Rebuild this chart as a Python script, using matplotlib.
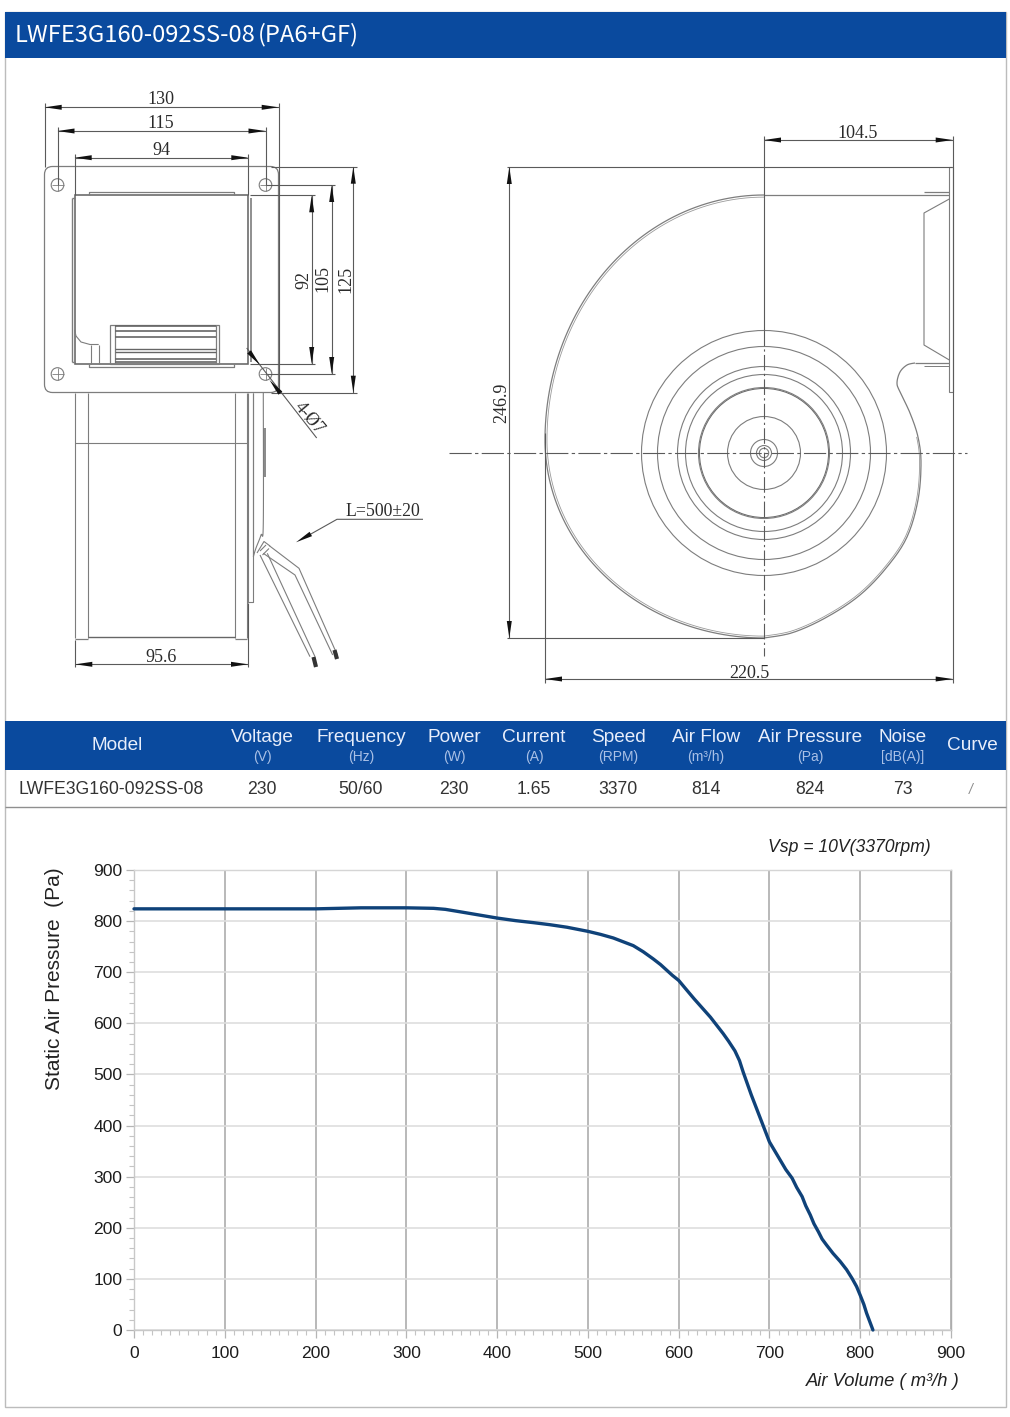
import numpy as np
import matplotlib
matplotlib.use('Agg')
import matplotlib.pyplot as plt
from matplotlib.patches import Circle, FancyBboxPatch, Polygon, Rectangle

plt.rcParams['font.family'] = ['Liberation Sans', 'DejaVu Sans']

# curve
air_volume = [0, 100, 200, 250, 300, 330, 343, 360, 380, 400, 420, 440, 458, 477, 500, 514, 528,
              550, 561, 572, 580, 593, 600, 608, 617, 626, 635, 642, 649, 655, 662, 667, 671,
              676, 680, 685, 690, 695, 700, 706, 712, 718, 725, 730, 736, 740, 745, 749, 754,
              758, 763, 770, 778, 785, 791, 796, 800, 804, 807, 814]
pressure = [824, 824, 824, 826, 826, 825, 823, 818, 812, 806, 801, 797, 793, 788, 780, 774, 767,
            752, 740, 726, 715, 694, 684, 667, 648, 630, 612, 596, 580, 565, 546, 527, 505,
            480, 460, 437, 414, 391, 368, 350, 332, 314, 297, 279, 261, 243, 225, 208, 192,
            178, 166, 150, 134, 118, 101, 85, 68, 50, 33, 0]
x_ticks = [0, 100, 200, 300, 400, 500, 600, 700, 800, 900]
y_ticks = [0, 100, 200, 300, 400, 500, 600, 700, 800, 900]

title_model = 'LWFE3G160-092SS-08'
title_material = '(PA6+GF)'
col_names = ['Model', 'Voltage', 'Frequency', 'Power', 'Current', 'Speed', 'Air Flow',
             'Air Pressure', 'Noise', 'Curve']
col_units = ['', '(V)', '(Hz)', '(W)', '(A)', '(RPM)', '(m³/h)', '(Pa)', '[dB(A)]', '']
col_values = ['LWFE3G160-092SS-08', '230', '50/60', '230', '1.65', '3370', '814', '824', '73', '/']
col_x = [117, 262, 361, 454, 534, 618, 706, 810, 903, 972]
value_x = [111, 262, 361, 454, 534, 618, 706, 810, 903, 971]

# drawing outlines, in pixels of the page
volute_right = [(764, 638), (793, 632.5), (827, 617), (860, 595), (887, 567), (907, 537), (918, 500),
                (921, 463), (918, 437), (910, 413), (900, 392), (897, 383), (900, 372), (907, 365),
                (915, 363)]
rings = [122.5, 106.5, 86.5, 78.5, 65.5, 36.5, 13.5, 7.5, 4.7]

BLUE = '#0a4a9e'
LINE = '#7d7d7d'
DIM = '#5a5a5a'


def smooth(points, steps=12):
    pts = np.array(points, dtype=float)
    pts = np.vstack([pts[0], pts, pts[-1]])
    out = []
    for i in range(1, len(pts) - 2):
        p0, p1, p2, p3 = pts[i - 1], pts[i], pts[i + 1], pts[i + 2]
        for t in np.linspace(0, 1, steps, endpoint=False):
            out.append(0.5 * (2 * p1 + (p2 - p0) * t + (2 * p0 - 5 * p1 + 4 * p2 - p3) * t ** 2
                              + (3 * p1 - p0 - 3 * p2 + p3) * t ** 3))
    out.append(pts[-2])
    return np.array(out)


fig = plt.figure(figsize=(10.10, 14.17), dpi=100, facecolor='white')
page = fig.add_axes([0, 0, 1, 1])
page.set_xlim(0, 1010)
page.set_ylim(1417, 0)
page.axis('off')


def line(xs, ys, color=LINE, lw=0.8, **kw):
    page.plot(xs, ys, color=color, lw=lw, solid_capstyle='butt', **kw)


def arrow(tip_x, tip_y, dx, dy, length=17, width=5):
    # dx, dy is the unit direction from the tail to the tip
    nx, ny = -dy, dx
    bx, by = tip_x - dx * length, tip_y - dy * length
    page.add_patch(Polygon([(tip_x, tip_y), (bx + nx * width / 2, by + ny * width / 2),
                            (bx - nx * width / 2, by - ny * width / 2)],
                           closed=True, fc='#111111', ec='none', zorder=4))


def dim_text(x, y, s, rotation=0, size=13):
    page.text(x, y, s, ha='center', va='center', rotation=rotation, color='#2a2a2a',
              fontsize=size, family=['Liberation Serif', 'DejaVu Serif'], zorder=5)


def dim_h(y, x0, x1, label, text_x, text_y):
    line([x0, x1], [y, y], DIM)
    arrow(x0, y, -1, 0)
    arrow(x1, y, 1, 0)
    dim_text(text_x, text_y, label)


def dim_v(x, y0, y1, label, text_x, text_y):
    line([x, x], [y0, y1], DIM)
    arrow(x, y0, 0, -1)
    arrow(x, y1, 0, 1)
    dim_text(text_x, text_y, label, rotation=90)


# page frame, title bar, table
page.add_patch(Rectangle((4.5, 12), 1001.5, 1395, fc='none', ec='#bcbcbc', lw=1))
page.add_patch(Rectangle((4.5, 12), 1001.5, 45.5, fc=BLUE, ec='none'))
page.text(14.5, 35, title_model, color='white', fontsize=17.1, va='center', ha='left',
          family=['Noto Sans CJK SC', 'DejaVu Sans'])
page.text(258, 35, title_material, color='white', fontsize=17.1, va='center', ha='left',
          family=['Noto Sans CJK SC', 'DejaVu Sans'])
page.add_patch(Rectangle((4.5, 721), 1001.5, 48.5, fc=BLUE, ec='none'))
line([4.5, 1006], [807, 807], '#8f8f8f', 1)
for name, unit, value, cx, vx in zip(col_names, col_units, col_values, col_x, value_x):
    page.text(cx, 745 if not unit else 737, name, color='#e8eefb', fontsize=13.7, ha='center', va='center')
    if unit:
        page.text(cx, 757, unit, color='#a9c0e6', fontsize=10, ha='center', va='center')
    if value == '/':
        page.text(vx, 790, value, color='#8a8a8a', fontsize=10, ha='center', va='center', style='italic')
    else:
        page.text(vx, 789.5, value, color='#333333', fontsize=12.7, ha='center', va='center')

# left view: flange plate
page.add_patch(FancyBboxPatch((52, 174), 219, 211, boxstyle='round,pad=7.5,rounding_size=8',
                              fc='none', ec=LINE, lw=0.9))
for hx, hy in [(57.5, 185), (265.5, 185), (57.5, 374), (265.5, 374)]:
    page.add_patch(Circle((hx, hy), 6.3, fc='none', ec=LINE, lw=0.8))
    line([hx - 6, hx + 6], [hy, hy], LINE, 0.6)
    line([hx, hx], [hy - 6, hy + 6], LINE, 0.6)

# fan box seen from the front
page.add_patch(Rectangle((74.7, 195.3), 173.6, 168.7, fc='none', ec='#666666', lw=1.15))
line([71.5, 71.5], [198, 362], LINE, 1)
line([71.5, 74.7], [198, 198], LINE, 1)
line([71.5, 74.7], [362, 362], LINE, 1)
line([251, 251], [198, 362], LINE, 1.2)
line([88.7, 88.7, 234, 234], [195, 191.7, 191.7, 195], LINE, 0.9)
line([88.7, 88.7, 234, 234], [364, 367.3, 367.3, 364], LINE, 0.9)
line([74.7, 76, 81, 90, 98.7], [330, 336, 342, 344.5, 344.5], LINE, 0.8)
line([90.7, 90.7], [344.5, 364], LINE, 0.8)
line([98.7, 98.7], [344.5, 364], LINE, 0.8)
page.add_patch(Rectangle((110.3, 325.3), 109, 38.7, fc='none', ec=LINE, lw=0.9))
line([115, 115], [325.3, 364], LINE, 0.9)
line([216, 216], [325.3, 364], LINE, 0.9)
for ly, lw in [(326, 1.2), (330.7, 1.2), (337.3, 1.2), (348.7, 1), (351.7, 1), (359.3, 1.2), (362, 1.2)]:
    line([115, 216], [ly, ly], '#666666', lw)

# lower body, side view
for vx in [75.3, 88, 235.3, 246.7]:
    line([vx, vx], [393, 638], LINE, 0.8)
line([75.3, 246.7], [442.7, 442.7], LINE, 0.8)
line([88, 235.3], [637, 637], '#666666', 1)
line([75.3, 88], [639.3, 639.3], LINE, 0.9)
line([235.3, 246.7], [639.3, 639.3], LINE, 0.9)
line([248, 248, 252.7, 252.7], [393, 602, 602, 393], LINE, 0.8)
motor = smooth([(263.3, 393), (263.3, 523), (261, 535), (256, 548), (253.3, 556.7)])
line(motor[:, 0], motor[:, 1], LINE, 0.8)
line([253.3, 253.3], [393, 556], LINE, 0.8)
page.add_patch(Rectangle((263.3, 428.3), 2.4, 48.4, fc='#8c8c8c', ec='none'))

# cable
line([260, 310], [555, 656.7], LINE, 0.8)
line([267.3, 315], [553.3, 656.7], LINE, 0.8)
line([269.3, 299, 337.3], [545.7, 568.3, 655], LINE, 0.8)
line([263.3, 295, 332.7], [553.3, 575, 655], LINE, 0.8)
line([257, 264, 270], [553, 541.5, 546], LINE, 0.8)
line([260, 266], [551, 545], LINE, 0.8)
line([262.5, 269], [555, 548.5], LINE, 0.8)
line([313.5, 316], [657, 667], '#333333', 3)
line([334.5, 337], [650, 659], '#333333', 3)

# left view dimensions
line([44.7, 44.7], [103, 167], DIM)
line([278.7, 278.7], [103, 392], DIM)
line([57.5, 57.5], [127, 185], DIM)
line([265.5, 265.5], [127, 185], DIM)
line([74.7, 74.7], [154, 195], DIM)
line([248.3, 248.3], [154, 195], DIM)
dim_h(107.3, 44.7, 278.7, '130', 161, 100)
dim_h(131, 57.5, 265.5, '115', 161, 123.5)
dim_h(157.7, 74.7, 248.3, '94', 161, 150.5)
line([271, 357], [166.7, 166.7], DIM)
line([265.5, 335], [185, 185], DIM)
line([250, 315], [195.3, 195.3], DIM)
line([250, 315], [364, 364], DIM)
line([265.5, 335], [374, 374], DIM)
line([271, 357], [392.7, 392.7], DIM)
dim_v(353.3, 166.7, 392.7, '125', 346, 279)
dim_v(331.7, 185, 374, '105', 323, 279)
dim_v(311.7, 195.3, 364, '92', 304, 280)
line([75.3, 75.3], [640, 667], DIM)
line([248, 248], [603, 667], DIM)
dim_h(664.3, 75.3, 248, '95.6', 161, 657)
line([246.7, 316.7], [348, 438], DIM)
arrow(260, 365, 0.64, 0.77, 17, 5)
arrow(269.5, 380, -0.64, -0.77, 17, 5)
dim_text(309, 418, '4-Ø7', rotation=-50, size=13)
line([423, 337, 310], [519.3, 519.3, 534.5], DIM)
arrow(296, 542.3, -0.87, 0.49, 17, 5)
dim_text(383, 512, 'L=500±20', size=12.8)

# right view
for r in rings:
    page.add_patch(Circle((764, 453), r, fc='none', ec=LINE, lw=0.8))
page.add_patch(Circle((764, 453), 64.5, fc='none', ec='#666666', lw=0.7))

theta = np.radians(np.linspace(90, 270, 120))
arc_x = 764 + 219 * np.cos(theta)
arc_y = 440 - np.sin(theta) * np.where(np.sin(theta) > 0, 245, 198)
spiral = np.vstack([np.column_stack([arc_x, arc_y]), smooth(volute_right)])
line(spiral[:, 0], spiral[:, 1], LINE, 0.9)
inner = spiral[:-72] - (spiral[:-72] - [764, 430]) * 0.009
line(inner[:, 0], inner[:, 1], '#9a9a9a', 0.6)
line([764, 949], [195, 195], LINE, 0.9)
line([915, 949], [363, 363], LINE, 0.9)
line([924, 949], [366, 366], LINE, 0.7)
line([924, 949], [192, 192], LINE, 0.9)
page.add_patch(Rectangle((949.3, 167), 3.4, 225, fc='none', ec=LINE, lw=0.8))
line([949.3, 924, 924, 949.3], [199, 213, 345, 360], LINE, 0.8)
line([764, 764], [136, 330], DIM, 0.8)
line([764, 764], [330, 656], DIM, 0.8, linestyle=(0, (14, 3, 2, 3)))
line([449, 967], [453, 453], DIM, 0.8, linestyle=(0, (20, 3, 3, 3)))
line([507, 952], [167, 167], DIM)
line([507, 764], [638, 638], DIM)
line([952.7, 952.7], [136, 683], DIM)
line([545, 545], [433, 683], DIM)
dim_h(140, 764, 952.7, '104.5', 858, 134)
dim_v(509.3, 167, 638, '246.9', 502, 403)
dim_h(679, 545, 952.7, '220.5', 749, 673)

# performance chart
ax = fig.add_axes([134 / 1010, (1417 - 1330) / 1417, 817 / 1010, 460 / 1417], facecolor='none')
ax.set_xlim(0, 900)
ax.set_ylim(0, 900)
ax.set_xticks(x_ticks)
ax.set_yticks(y_ticks)
ax.set_xticks(np.arange(0, 901, 10), minor=True)
ax.set_yticks(np.arange(0, 901, 20), minor=True)
ax.grid(True, axis='x', which='major', color='#adadad', lw=1.2)
ax.grid(True, axis='y', which='major', color='#dedede', lw=1.2)
ax.set_axisbelow(True)
ax.tick_params(axis='both', which='major', length=6, width=0.9, color='#b5b5b5', labelsize=12.6,
               labelcolor='#1d1d1d')
ax.tick_params(axis='x', which='major', pad=5.5)
ax.tick_params(axis='y', which='major', pad=2.5)
ax.tick_params(axis='both', which='minor', length=3.5, width=0.8, color='#c4c4c4')
for side, col in [('left', '#c8c8c8'), ('bottom', '#c8c8c8'), ('top', '#d5d5d5'), ('right', '#adadad')]:
    ax.spines[side].set_color(col)
    ax.spines[side].set_linewidth(1)
ax.plot(air_volume, pressure, color='#0f4279', lw=2.4, solid_capstyle='round',
        solid_joinstyle='round', clip_on=False, zorder=5)

page.text(55, 979, 'Static Air Pressure  (Pa)', rotation=90, ha='center', va='center',
          fontsize=15, color='#222222')
page.text(882.5, 1381, 'Air Volume ( m³/h )', ha='center', va='center', style='italic',
          fontsize=13.2, color='#222222')
page.text(849, 847.5, 'Vsp = 10V(3370rpm)', ha='center', va='center', style='italic',
          fontsize=12.7, color='#222222')

fig.savefig('out.png', dpi=100, facecolor='white')
